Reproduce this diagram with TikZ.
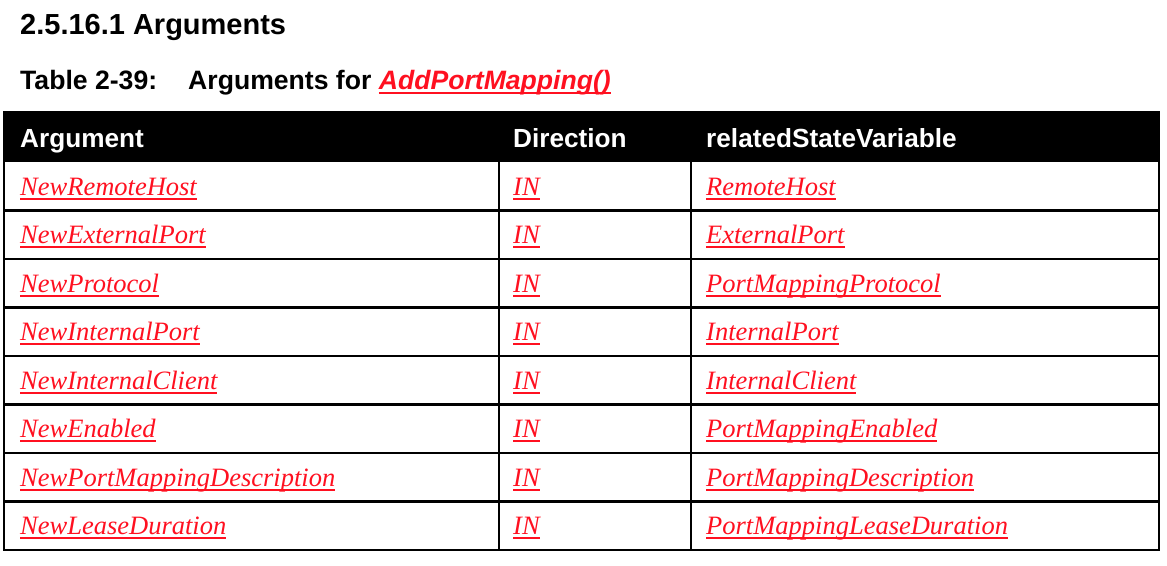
\documentclass[tikz,border=0pt]{standalone}
\usepackage{fontspec}
\setmainfont{Liberation Serif}
\newfontfamily\arialfont{Liberation Sans}
\definecolor{linkred}{RGB}{255,16,32}
\newcommand\redul[1]{\setbox0\hbox{#1}\rlap{\rule[-4.5pt]{\wd0}{2pt}}\box0}
\tikzset{
  heading/.style={anchor=base west, inner sep=0pt, font=\arialfont\bfseries\fontsize{29}{32}\selectfont},
  caption/.style={anchor=base west, inner sep=0pt, font=\arialfont\bfseries\fontsize{26.6}{30}\selectfont},
  headcell/.style={anchor=base west, inner sep=0pt, text=white, font=\arialfont\bfseries\fontsize{26.2}{30}\selectfont},
  cell/.style={anchor=base west, inner sep=0pt, text=linkred, font=\itshape\fontsize{26.5}{30}\selectfont},
  grid/.style={line width=2.3pt, black},
}
\begin{document}
\begin{tikzpicture}[x=1pt,y=-1pt]
\useasboundingbox (0,0) rectangle (1167,565);
% title texts
\node[heading] (title) at (20,34.5) {2.5.16.1 Arguments};
\node[caption] (captab) at (20,89.5) {Table 2-39:};
\node[caption] (capfor) at (188,89.5) {Arguments for \textcolor{linkred}{\itshape\redul{AddPortMapping()}}};
% table header band
\fill[black] (4,112) rectangle (1159,162);
% grid
\draw[grid] (4,112) rectangle (1159,550);
\foreach \k in {1,...,7} {
  \draw[grid] (4,{162+48.5*\k}) -- (1159,{162+48.5*\k});
}
\draw[grid] (499,112) -- (499,550);
\draw[grid] (691,112) -- (691,550);
% header cells
\node[headcell] (h1) at (20,147.5) {Argument};
\node[headcell] (h2) at (513,147.5) {Direction};
\node[headcell] (h3) at (706,147.5) {relatedStateVariable};
% rows
\foreach \a/\c [count=\i from 0] in {
  NewRemoteHost/RemoteHost,
  NewExternalPort/ExternalPort,
  NewProtocol/PortMappingProtocol,
  NewInternalPort/InternalPort,
  NewInternalClient/InternalClient,
  NewEnabled/PortMappingEnabled,
  NewPortMappingDescription/PortMappingDescription,
  NewLeaseDuration/PortMappingLeaseDuration} {
  \node[cell] (arg\i) at (20,{195+48.5*\i}) {\redul{\a}};
  \node[cell] (dir\i) at (513,{195+48.5*\i}) {\redul{IN}};
  \node[cell] (var\i) at (706,{195+48.5*\i}) {\redul{\c}};
}
\end{tikzpicture}
\end{document}
